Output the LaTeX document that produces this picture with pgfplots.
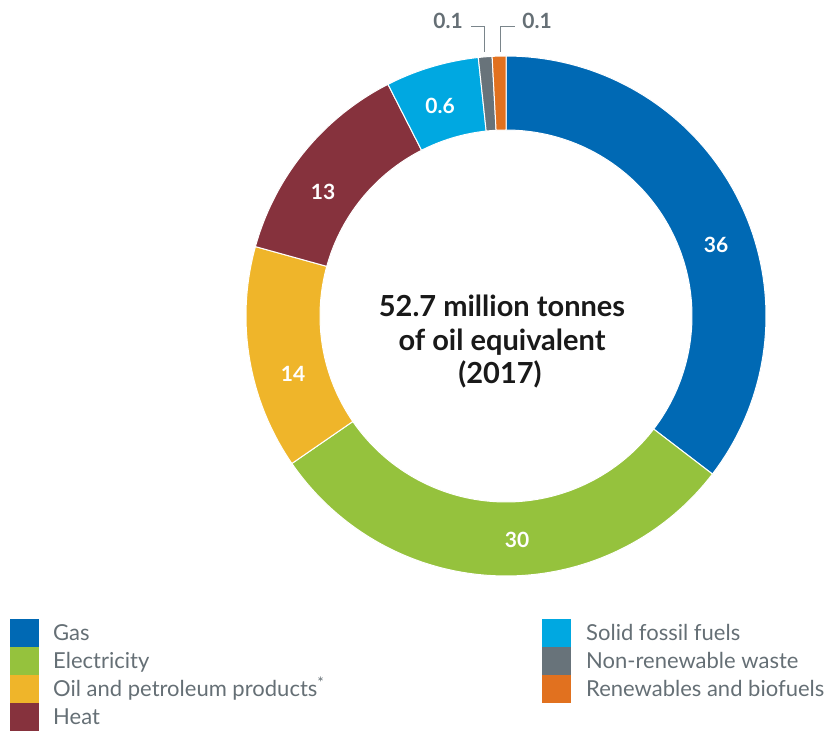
\documentclass[border=0pt]{standalone}
\usepackage{pgfplots}
\pgfplotsset{compat=1.18}
\usepackage{fontspec}
\setmainfont{Lato}
\definecolor{gasc}{HTML}{0069B4}
\definecolor{elecc}{HTML}{95C23D}
\definecolor{oilc}{HTML}{EFB52A}
\definecolor{heatc}{HTML}{86323D}
\definecolor{solidc}{HTML}{00A8E1}
\definecolor{nrwc}{HTML}{68737A}
\definecolor{renc}{HTML}{E1711F}
\definecolor{txtc}{HTML}{656F75}
\definecolor{leadc}{HTML}{7A858B}
% one donut segment: #1 = cumulative share at start (%), #2 = at end (%), #3 = colour
\newcommand{\donutseg}[3]{%
  \addplot[fill=#3, draw=white, line width=1pt, line join=round,
    domain=0:161, samples=162, variable=\t]
  ({ifthenelse(\t<80.5,260,186)*cos(90-3.6*ifthenelse(\t<80.5,#1+(#2-#1)*\t/80,#2+(#1-#2)*(\t-81)/80))},
   {ifthenelse(\t<80.5,260,186)*sin(90-3.6*ifthenelse(\t<80.5,#1+(#2-#1)*\t/80,#2+(#1-#2)*(\t-81)/80))}) -- cycle;
}
\newcommand{\legitem}[5]{% x square left, y top (data), colour, text x, text
  \fill[#3] (axis cs:#1,#2) rectangle (axis cs:#1+29,#2-28);
  \node[anchor=base west, inner sep=0pt, text=txtc, font=\fontsize{22}{25}\selectfont] at (axis cs:#4,#2-21.5) {#5};
}
\begin{document}
\begin{tikzpicture}
\useasboundingbox (0,0) rectangle (831pt,731pt);
\begin{axis}[x=1pt, y=1pt, xmin=-506, xmax=325, ymin=-415, ymax=316,
  hide axis, clip=false, scale only axis, anchor=origin, at={(506pt,415pt)}]
% shares (%), cumulative clockwise from the top
\donutseg{0}{35.4}{gasc}
\donutseg{35.4}{65.4}{elecc}
\donutseg{65.4}{79.3}{oilc}
\donutseg{79.3}{92.5}{heatc}
\donutseg{92.5}{98.3}{solidc}
\donutseg{98.3}{99.15}{nrwc}
\donutseg{99.15}{100}{renc}
% segment labels
\begin{scope}[every node/.style={text=white, font=\bfseries\fontsize{21}{24}\selectfont}]
\node at (axis cs:210,71) {36};
\node at (axis cs:11,-224) {30};
\node at (axis cs:-213,-58) {14};
\node at (axis cs:-183,124) {13};
\node at (axis cs:-66,210) {0.6};
\end{scope}
% leader labels
\draw[leadc, line width=1.2pt] (axis cs:-21.3,264) -- (axis cs:-21.3,289.3) -- (axis cs:-35.3,289.3);
\draw[leadc, line width=1.2pt] (axis cs:-5.7,264) -- (axis cs:-5.7,289.3) -- (axis cs:9,289.3);
\node[text=txtc, font=\bfseries\fontsize{21}{24}\selectfont, anchor=base] at (axis cs:-58,287) {0.1};
\node[text=txtc, font=\bfseries\fontsize{21}{24}\selectfont, anchor=base] at (axis cs:31,287) {0.1};
% centre text
\begin{scope}[every node/.style={anchor=base, inner sep=0pt, text=black!90, font=\bfseries\fontsize{29}{33}\selectfont}]
\node at (axis cs:-4,-1) {52.7 million tonnes};
\node at (axis cs:-4,-35) {of oil equivalent};
\node at (axis cs:-6,-68) {(2017)};
\end{scope}
% legend
\legitem{-496}{-303}{gasc}{-453}{Gas}
\legitem{-496}{-331}{elecc}{-453}{Electricity}
\legitem{-496}{-359}{oilc}{-453}{Oil and petroleum products\textsuperscript{*}}
\legitem{-496}{-387}{heatc}{-453}{Heat}
\legitem{35.7}{-303}{solidc}{80}{Solid fossil fuels}
\legitem{35.7}{-331}{nrwc}{80}{Non-renewable waste}
\legitem{35.7}{-359}{renc}{80}{Renewables and biofuels}
\end{axis}
\end{tikzpicture}
\end{document}
